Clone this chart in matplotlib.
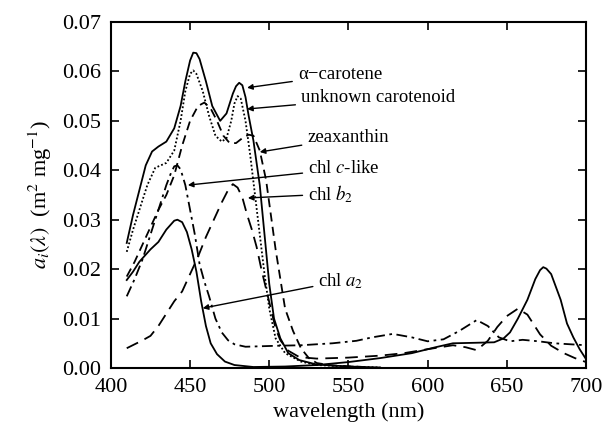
import numpy as np
import matplotlib
matplotlib.use("Agg")
import matplotlib.pyplot as plt

plt.rcParams["font.family"] = ["Liberation Serif", "DejaVu Serif"]
plt.rcParams["mathtext.fontset"] = "stix"

# --- data (wavelength nm, absorption m2 mg-1) ---
acar_wl = [410, 414, 418, 422, 426, 430, 435, 440, 444, 447, 450, 452, 454, 456, 460, 464,
           469, 473, 477, 479, 481, 483, 485, 487, 490, 494, 497, 500, 503, 507, 512, 519,
           530, 550, 570]
acar_val = [0.0253, 0.031, 0.036, 0.041, 0.0438, 0.0448, 0.0458, 0.0485, 0.053, 0.058, 0.0622,
            0.0638, 0.0637, 0.0625, 0.058, 0.053, 0.050, 0.0515, 0.0555, 0.057, 0.0577,
            0.0572, 0.0548, 0.051, 0.046, 0.037, 0.027, 0.017, 0.010, 0.006, 0.003, 0.0016,
            0.0007, 0.0003, 0.0001]

unk_wl = [410, 414, 418, 423, 428, 435, 440, 444, 447, 450, 452, 454, 458, 462, 466, 470,
          473, 476, 478, 480, 482, 485, 488, 491, 494, 497, 500, 504, 510, 520, 530, 550, 570]
unk_val = [0.0235, 0.028, 0.032, 0.037, 0.0405, 0.0415, 0.044, 0.050, 0.056, 0.0595, 0.0602,
           0.0595, 0.056, 0.051, 0.047, 0.0458, 0.0465, 0.050, 0.0535, 0.055, 0.0545, 0.050,
           0.043, 0.035, 0.027, 0.019, 0.012, 0.006, 0.003, 0.0013, 0.0006, 0.0003, 0.0001]

zea_wl = [410, 415, 420, 425, 430, 435, 440, 445, 450, 455, 459, 463, 467, 471, 475, 479,
          483, 487, 490, 494, 498, 501, 504, 507, 510, 515, 520, 525, 530, 540, 560]
zea_val = [0.0185, 0.0215, 0.025, 0.0285, 0.032, 0.035, 0.039, 0.045, 0.050, 0.053, 0.0537,
           0.0525, 0.050, 0.047, 0.0455, 0.0455, 0.0465, 0.0472, 0.047, 0.044, 0.038, 0.031,
           0.024, 0.018, 0.012, 0.0075, 0.004, 0.002, 0.001, 0.0005, 0.0002]

chlc_wl = [410, 415, 420, 425, 430, 435, 438, 440, 442, 444, 447, 450, 453, 456, 459, 462,
           466, 470, 474, 478, 485, 495, 505, 520, 540, 555, 565, 578, 590, 600, 610, 620,
           631, 638, 645, 652, 660, 670, 680, 690, 700]
chlc_val = [0.0145, 0.018, 0.022, 0.027, 0.032, 0.037, 0.0395, 0.0408, 0.041, 0.0402, 0.037,
            0.032, 0.027, 0.021, 0.0175, 0.0145, 0.010, 0.0072, 0.0056, 0.0048, 0.0043,
            0.0044, 0.0045, 0.0046, 0.005, 0.0055, 0.0062, 0.0069, 0.0062, 0.0054, 0.0058,
            0.0075, 0.0097, 0.0085, 0.0062, 0.0054, 0.0057, 0.0054, 0.005, 0.0048, 0.0046]

chlb_wl = [410, 415, 420, 425, 430, 435, 440, 445, 450, 455, 460, 465, 470, 474, 477, 480,
           483, 486, 489, 492, 495, 498, 501, 504, 507, 512, 519, 530, 550, 570, 585, 600,
           616, 624, 631, 638, 644, 650, 657, 663, 671, 678, 686, 693, 700]
chlb_val = [0.004, 0.0048, 0.0056, 0.0065, 0.0085, 0.011, 0.0135, 0.0155, 0.019, 0.0225,
            0.0265, 0.030, 0.0335, 0.036, 0.0372, 0.0365, 0.0345, 0.031, 0.028, 0.0245,
            0.020, 0.016, 0.012, 0.008, 0.0056, 0.0035, 0.0022, 0.0019, 0.0021, 0.0025,
            0.003, 0.0038, 0.0046, 0.0042, 0.0036, 0.0055, 0.0083, 0.0105, 0.012, 0.0108,
            0.0068, 0.0045, 0.003, 0.002, 0.0012]

chla_wl = [410, 414, 418, 425, 430, 435, 440, 442, 445, 448, 451, 454, 457, 460, 463, 467,
           472, 478, 490, 510, 530, 550, 570, 590, 605, 616, 630, 642, 648, 652, 657, 663,
           668, 671, 673, 675, 678, 684, 688, 692, 696, 700]
chla_val = [0.0178, 0.0195, 0.0215, 0.024, 0.0255, 0.028, 0.0298, 0.030, 0.0295, 0.0275,
            0.024, 0.0195, 0.0135, 0.0085, 0.005, 0.0028, 0.0013, 0.0006, 0.0002, 0.0003,
            0.0006, 0.0012, 0.002, 0.003, 0.0042, 0.005, 0.0051, 0.0052, 0.006, 0.0072,
            0.010, 0.0138, 0.018, 0.0198, 0.0204, 0.0201, 0.019, 0.0138, 0.009, 0.0062,
            0.0038, 0.0018]

# label text, text anchor (wl, a), arrow tip (wl, a)
labels = ["α−carotene", "unknown carotenoid", "zeaxanthin",
          "chl $c$-like", "chl $b_2$", "chl $a_2$"]
label_xy = [(518, 0.0593), (520, 0.0547), (524, 0.0466),
            (524.5, 0.0403), (524.5, 0.0352), (531, 0.0176)]
tip_xy = [(486, 0.0567), (486, 0.0524), (494, 0.0437),
          (448.6, 0.037), (486.5, 0.0344), (458, 0.0121)]

fig = plt.figure(figsize=(6.06, 4.28), dpi=100)
ax = fig.add_axes([0.183, 0.1402, 0.784, 0.8084])

lw = 1.3
ax.plot(acar_wl, acar_val, color="black", lw=lw, ls="-")
ax.plot(unk_wl, unk_val, color="black", lw=lw, ls=(0, (1, 1.2)))
ax.plot(zea_wl, zea_val, color="black", lw=lw, ls=(0, (5, 3)))
ax.plot(chlc_wl, chlc_val, color="black", lw=lw, ls=(0, (6, 2.5, 1.5, 2.5)))
ax.plot(chlb_wl, chlb_val, color="black", lw=lw, ls=(0, (7, 4)))
ax.plot(chla_wl, chla_val, color="black", lw=lw, ls="-")

for txt, xy_t, xy_p in zip(labels, label_xy, tip_xy):
    ax.annotate(txt, xy=xy_p, xytext=xy_t, ha="left", va="center", fontsize=13.5,
                arrowprops=dict(arrowstyle="-|>", color="black", lw=1.0,
                                mutation_scale=8, shrinkA=2, shrinkB=0))

ax.set_xlim(400, 700)
ax.set_ylim(0, 0.07)
ax.set_xticks(np.arange(400, 701, 50))
ax.set_yticks(np.arange(0, 0.0701, 0.01))
ax.yaxis.set_major_formatter(matplotlib.ticker.FormatStrFormatter("%.2f"))
ax.tick_params(direction="in", top=True, right=True, length=6, width=1.2,
               labelsize=16, pad=7)
for s in ax.spines.values():
    s.set_linewidth(1.5)

ax.set_xlabel("wavelength (nm)", fontsize=16, labelpad=4)
ax.set_ylabel(r"$a_i(\lambda)$  (m$^2$ mg$^{-1}$)", fontsize=16, labelpad=6)

fig.savefig("out.png", dpi=100)
